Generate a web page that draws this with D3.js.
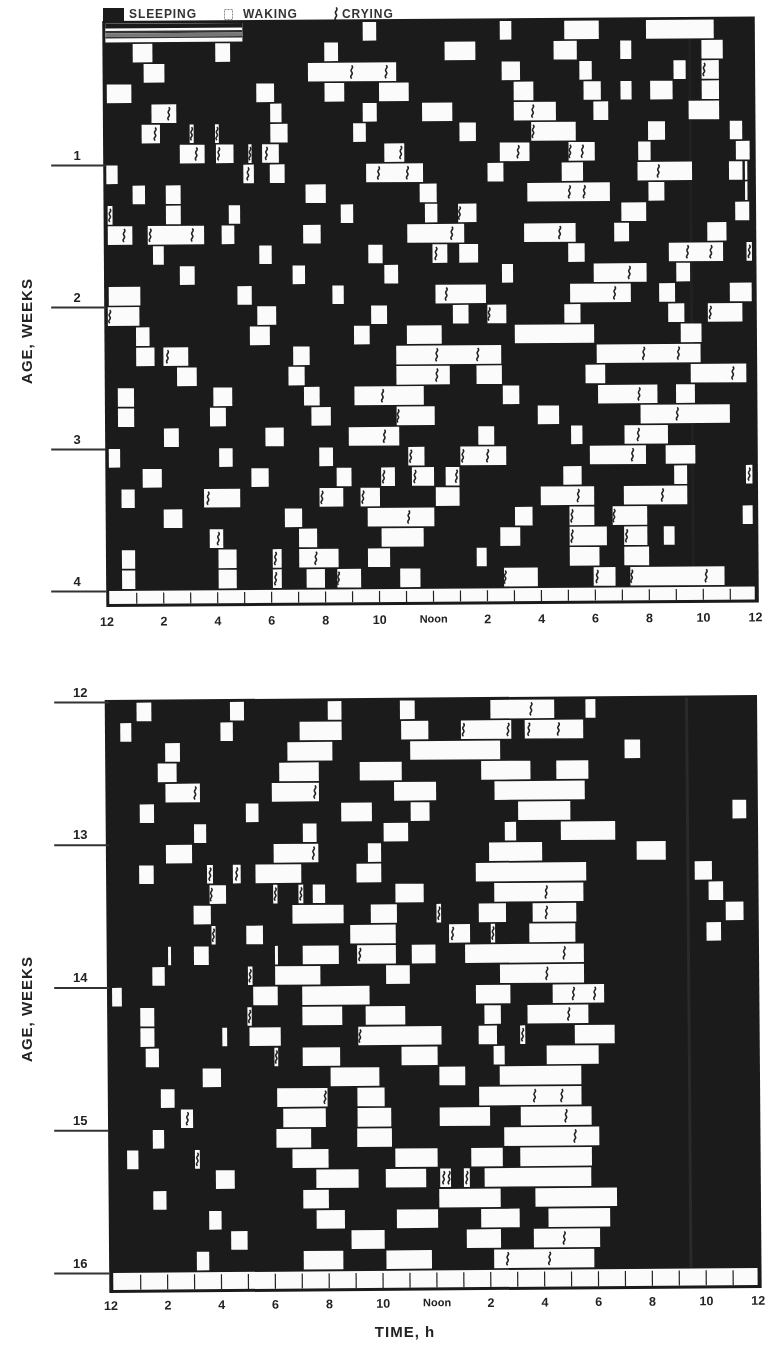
<!DOCTYPE html>
<html lang="en">
<head>
<meta charset="utf-8">
<title>Infant sleep actogram</title>
<style type="text/css">
html, body { margin: 0; background: #fff; }
svg { display: block; filter: blur(0.55px); }
text { font-family: "Liberation Sans", sans-serif; font-weight: bold; fill: #222; }
.hours text { font-size: 12.5px; }
.weeks text { font-size: 13px; }
.weeks line { stroke: #333; stroke-width: 2px; }
.ruler line { stroke: #222; stroke-width: 1.2px; }
.axis-title { font-size: 15px; letter-spacing: 1px; }
.legend text { font-size: 12px; letter-spacing: 0.9px; fill: #333; }
.cry { fill: none; stroke: #222; stroke-width: 1.6px; }
</style>
</head>
<body>
<svg width="776" height="1350"></svg>
<script src="https://d3js.org/d3.v7.min.js"></script>
<script>
var hourLabels = ["12", "2", "4", "6", "8", "10", "Noon", "2", "4", "6", "8", "10", "12"];
var legendItems = ["SLEEPING", "WAKING", "CRYING"];
var topWeeks = [1, 2, 3, 4];
var bottomWeeks = [12, 13, 14, 15, 16];

// waking bouts per day, in hours after midnight: [from, to]
var topWaking = [
  [[0,5.08],[9.54,10.04],[14.62,15.05],[17.01,18.29],[20.04,22.55]],
  [[1.01,1.74],[4.07,4.62],[8.11,8.62],[12.57,13.71],[16.61,17.47],[19.08,19.49],[22.09,22.88]],
  [[1.41,2.18],[7.5,10.77],[14.68,15.36],[17.56,18.02],[21.05,21.5],[22.09,22.73]],
  [[0.04,0.95],[5.58,6.24],[8.11,8.84],[10.13,11.23],[15.12,15.85],[17.71,18.35],[19.08,19.49],[20.18,21.01],[22.09,22.73]],
  [[1.69,2.61],[6.09,6.51],[9.52,10.04],[11.72,12.84],[15.12,16.68],[18.07,18.62],[21.6,22.73]],
  [[1.32,2],[3.1,3.25],[4.04,4.18],[6.09,6.73],[9.16,9.63],[13.1,13.71],[15.76,17.41],[20.09,20.72],[23.12,23.58]],
  [[2.73,3.65],[4.07,4.72],[5.27,5.39],[5.78,6.4],[10.31,11.05],[14.59,15.69],[17.14,18.11],[19.72,20.18],[23.34,23.85]],
  [[0,0.42],[5.08,5.47],[6.06,6.61],[9.63,11.74],[14.13,14.72],[16.88,17.67],[19.69,21.71],[23.08,23.58],[23.67,23.76]],
  [[0.97,1.43],[2.2,2.75],[7.38,8.13],[11.61,12.24],[15.6,18.66],[20.09,20.68],[23.67,23.76]],
  [[0.04,0.22],[2.2,2.75],[4.53,4.95],[8.68,9.14],[11.8,12.26],[13.03,13.71],[19.08,20],[23.3,23.82]],
  [[0.04,0.95],[1.52,3.61],[4.26,4.73],[7.28,7.93],[11.14,13.25],[15.47,17.38],[18.81,19.36],[22.26,22.97]],
  [[1.71,2.11],[5.65,6.11],[9.69,10.22],[12.07,12.62],[13.06,13.76],[17.1,17.71],[20.83,22.84],[23.71,23.91]],
  [[2.7,3.25],[6.88,7.34],[10.28,10.79],[14.64,15.05],[18.04,20],[21.1,21.61]],
  [[0.06,1.23],[4.83,5.36],[8.35,8.77],[12.17,14.04],[17.16,19.41],[20.46,21.05],[23.08,23.89]],
  [[0.02,1.19],[5.56,6.26],[9.78,10.37],[12.81,13.39],[14.09,14.79],[16.94,17.54],[20.79,21.39],[22.26,23.54]],
  [[1.06,1.56],[5.28,6.02],[9.14,9.72],[11.1,12.39],[15.1,18.04],[21.25,22.02]],
  [[1.06,1.74],[2.07,2.99],[6.88,7.49],[10.7,14.59],[18.13,21.98]],
  [[2.57,3.3],[6.7,7.3],[10.7,12.68],[13.67,14.61],[17.71,18.44],[21.61,23.67]],
  [[0.37,0.97],[3.91,4.61],[7.27,7.85],[9.14,11.71],[14.64,15.25],[18.17,20.37],[21.06,21.76]],
  [[0.37,0.97],[3.78,4.37],[7.54,8.26],[10.7,12.11],[15.93,16.72],[19.74,23.05]],
  [[2.07,2.62],[5.83,6.51],[8.92,10.79],[13.72,14.31],[17.16,17.58],[19.14,20.75]],
  [[0.02,0.44],[4.11,4.61],[7.82,8.33],[11.12,11.72],[13.05,14.75],[17.85,19.93],[20.66,21.76]],
  [[1.27,1.98],[5.3,5.94],[8.46,9.01],[10.11,10.62],[11.25,12.07],[12.5,13.01],[16.86,17.54],[20.97,21.45],[23.63,23.87]],
  [[0.48,0.97],[3.54,4.88],[7.82,8.7],[9.34,10.06],[12.13,13.01],[16.02,18],[19.1,21.45]],
  [[2.04,2.73],[6.53,7.17],[9.6,12.07],[15.06,15.71],[17.08,18],[18.68,19.96],[23.5,23.87]],
  [[3.74,4.24],[7.05,7.72],[10.11,11.67],[14.51,15.25],[17.08,18.46],[19.1,19.96],[20.57,20.97]],
  [[0.48,0.97],[4.06,4.73],[6.07,6.4],[7.05,8.51],[9.6,10.42],[13.63,14],[17.08,18.18],[19.1,20.02]],
  [[0.48,0.97],[4.06,4.73],[6.07,6.4],[7.32,8],[8.46,9.34],[10.79,11.54],[14.64,15.89],[17.96,18.77],[19.32,22.81]]
];

// crying episodes per day, hours after midnight
var topCrying = [
  [], [], [9.12,10.4,22.18], [], [2.33,15.82], [1.82,3.17,4.11,15.83], [3.34,4.17,5.33,5.94,10.92,15.27,17.19,17.65],
  [5.25,10.09,11.16,20.46], [17.16,17.71], [0.12,13.08], [0.64,1.61,3.17,12.79,16.79], [12.2,21.52,22.39,23.81], [19.36], [12.57,18.81],
  [0.09,14.15,22.35], [], [2.22,12.2,13.72,19.87,21.16], [12.2,23.17], [10.18,19.69], [10.75,21.1], [10.24,19.65],
  [11.21,13.14,14.06,19.43], [10.2,11.36,12.9,23.75], [3.69,7.91,9.43,17.41,20.53], [11.12,17.17,18.73], [4.06,17.17,19.19], [6.17,7.67], [6.17,8.5,14.68,18.09,19.37,22.13]
];

var bottomWaking = [
  [[1.03,1.58],[4.5,5.02],[8.13,8.64],[10.81,11.36],[14.17,16.54],[17.7,18.07]],
  [[0.42,0.83],[4.14,4.6],[7.08,8.64],[10.85,11.86],[13.07,14.94],[15.44,17.61]],
  [[2.08,2.63],[6.62,8.29],[11.18,14.52],[19.14,19.72]],
  [[1.8,2.5],[6.31,7.78],[9.3,10.86],[13.81,15.64],[16.6,17.79]],
  [[2.08,3.36],[6.03,7.78],[10.57,12.13],[14.3,17.65]],
  [[1.12,1.65],[5.06,5.53],[8.6,9.74],[11.18,11.88],[15.17,17.11],[23.13,23.64]],
  [[3.13,3.58],[7.17,7.68],[10.17,11.08],[14.67,15.09],[16.75,18.77]],
  [[2.08,3.05],[6.08,7.74],[9.58,10.07],[14.08,16.05],[19.56,20.64]],
  [[1.08,1.62],[3.6,3.82],[4.56,4.85],[5.4,7.1],[9.15,10.07],[13.58,17.68],[21.71,22.35]],
  [[3.69,4.3],[6.05,6.21],[6.99,7.17],[7.52,7.98],[10.59,11.64],[14.26,17.57],[22.22,22.76]],
  [[3.09,3.73],[6.76,8.66],[9.67,10.64],[12.11,12.28],[13.68,14.69],[15.68,17.3],[22.85,23.51]],
  [[3.75,3.9],[5.04,5.66],[8.9,10.59],[12.57,13.35],[14.12,14.28],[15.55,17.26],[22.13,22.67]],
  [[2.13,2.24],[3.09,3.64],[6.1,6.21],[7.13,8.47],[9.15,10.59],[11.18,12.06],[13.16,17.57]],
  [[1.54,2],[5.09,5.26],[6.1,7.78],[10.22,11.1],[14.45,17.57]],
  [[0.04,0.4],[5.28,6.19],[7.1,9.6],[13.55,14.83],[16.4,18.31]],
  [[1.08,1.6],[5.06,5.22],[7.1,8.58],[9.45,10.92],[13.86,14.47],[15.46,17.72]],
  [[1.08,1.6],[4.12,4.3],[5.13,6.29],[9.17,12.26],[13.64,14.32],[15.18,15.37],[17.21,18.69]],
  [[1.27,1.76],[6.05,6.19],[7.1,8.49],[10.77,12.11],[14.19,14.6],[16.16,18.09]],
  [[3.38,4.06],[8.13,9.94],[12.17,13.13],[14.41,17.44]],
  [[1.82,2.33],[6.14,8.01],[9.12,10.13],[13.64,17.44]],
  [[2.56,3.01],[6.36,7.94],[9.12,10.37],[12.17,14.04],[15.18,17.81]],
  [[1.51,1.93],[6.1,7.39],[9.1,10.39],[14.56,18.09]],
  [[0.55,0.97],[3.07,3.25],[6.69,8.03],[10.51,12.08],[13.33,14.5],[15.15,17.81]],
  [[3.84,4.54],[7.57,9.14],[10.15,11.65],[12.17,12.57],[13.05,13.27],[13.82,17.78]],
  [[1.51,2],[7.08,8.03],[12.13,14.41],[15.7,18.73]],
  [[3.58,4.04],[7.57,8.62],[10.55,12.08],[13.68,15.11],[16.18,18.47]],
  [[4.39,5],[8.86,10.09],[13.14,14.41],[15.63,18.09]],
  [[3.11,3.57],[7.08,8.55],[10.15,11.84],[14.15,17.87]]
];

var bottomCrying = [
  [15.68], [13.16,14.82,15.59,16.69], [], [], [3.18,7.63], [], [],
  [7.56], [3.71,4.7], [3.75,6.13,7.08,16.19], [12.2,16.19], [3.82,12.7,14.2], [9.25,16.84], [5.17,16.19],
  [17.17,17.96], [5.14,16.99], [9.23,15.27], [6.12], [], [7.92,15.7,16.71], [2.8,16.86],
  [17.19], [3.16], [12.3,12.5,13.16], [], [], [16.76], [14.65,16.21]
];

var svg = d3.select("svg");

var cryLine = d3.line().curve(d3.curveBasis);
var cryShape = [[0,-6.5],[1.8,-4.5],[-1.8,-1.5],[1.8,1.5],[-1.8,4.5],[0,6.5]];

function drawPanel(opt) {
  var x = d3.scaleLinear().domain([0, 24]).range([opt.x0, opt.x0 + 24 * opt.hour]);
  var y = d3.scaleLinear().domain([0, 28]).range([opt.top, opt.bottom]);
  var barH = 18.6;
  var pad = (y(1) - y(0) - barH) / 2;

  var g = svg.append("g")
      .attr("transform", "rotate(" + opt.tilt + " " + opt.x0 + " " + opt.bottom + ")");

  g.append("rect")
      .attr("x", opt.x0 - opt.edge)
      .attr("y", opt.top - 2)
      .attr("width", 24 * opt.hour + opt.edge + 2)
      .attr("height", opt.bottom - opt.top + opt.strip + 6)
      .attr("fill", "#1b1b1b");

  // faint seam in the original print
  g.append("rect")
      .attr("x", x(opt.seam))
      .attr("y", opt.top)
      .attr("width", 3)
      .attr("height", opt.bottom - opt.top)
      .attr("fill", opt.seamColor);

  var day = g.selectAll(".day")
      .data(opt.waking)
    .enter().append("g")
      .attr("class", "day")
      .attr("transform", function(d, i) { return "translate(0," + (y(i) + pad) + ")"; });

  day.selectAll("rect")
      .data(function(d) { return d; })
    .enter().append("rect")
      .attr("x", function(d) { return x(d[0]); })
      .attr("width", function(d) { return x(d[1]) - x(d[0]); })
      .attr("height", barH)
      .attr("fill", "#fbfbfb");

  g.selectAll(".crying")
      .data(opt.crying)
    .enter().append("g")
      .attr("class", "crying")
      .attr("transform", function(d, i) { return "translate(0," + (y(i) + pad + barH / 2) + ")"; })
    .selectAll("path")
      .data(function(d) { return d; })
    .enter().append("path")
      .attr("class", "cry")
      .attr("d", cryLine(cryShape))
      .attr("transform", function(d) { return "translate(" + x(d) + ",0)"; });

  // 24 h ruler under the days
  var ruler = g.append("g").attr("class", "ruler");
  ruler.append("rect")
      .attr("x", x(0))
      .attr("y", opt.bottom + 1)
      .attr("width", x(24) - x(0) - 2)
      .attr("height", opt.strip)
      .attr("fill", "#fbfbfb");
  ruler.append("g")
      .attr("transform", "translate(0," + (opt.bottom + 1 + opt.strip) + ")")
      .call(d3.axisTop(x).tickValues(d3.range(1, 24)).tickSize(opt.strip - 2).tickFormat(""))
      .call(function(a) { a.select(".domain").remove(); a.attr("font-size", null); });

  // hour labels
  var hours = g.append("g")
      .attr("class", "hours")
      .attr("transform", "translate(0," + (opt.bottom + opt.strip + opt.labelGap) + ")")
      .call(d3.axisBottom(x).tickValues(d3.range(0, 25, 2)).tickSize(0).tickPadding(4)
        .tickFormat(function(d, i) { return hourLabels[i]; }));
  hours.attr("font-size", null).attr("font-family", null);
  hours.select(".domain").remove();
  hours.selectAll("text").filter(function(d) { return d === 12; })
      .style("font-size", "11px");
  hours.selectAll("text").filter(function(d) { return d === 0; })
      .attr("dx", -3);
  hours.selectAll("text").filter(function(d) { return d === 24; })
      .attr("dx", -2);

  // week ticks
  var w = d3.scaleLinear()
      .domain([opt.weeks[0] - (opt.weeks.length === 4 ? 1 : 0), opt.weeks[opt.weeks.length - 1]])
      .range([opt.weekTop, opt.weekBottom]);
  var weeks = svg.append("g")
      .attr("class", "weeks")
      .attr("transform", "translate(" + (opt.x0 - opt.edge) + ",0)")
      .call(d3.axisLeft(w).tickValues(opt.weeks).tickSize(55).tickFormat(d3.format("d")));
  weeks.attr("font-size", null).attr("font-family", null);
  weeks.select(".domain").remove();
  weeks.selectAll("text")
      .attr("x", -29)
      .attr("dy", 0)
      .attr("y", -6)
      .attr("text-anchor", "middle");

  svg.append("text")
      .attr("class", "axis-title")
      .attr("transform", "translate(32," + opt.titleY + ") rotate(-90)")
      .attr("text-anchor", "middle")
      .text("AGE, WEEKS");
}

drawPanel({
  waking: topWaking, crying: topCrying, weeks: topWeeks,
  x0: 109.2, hour: 26.98, top: 23, bottom: 590, strip: 13, edge: 3, tilt: -0.4,
  seam: 21.6, seamColor: "#212121", labelGap: 10,
  weekTop: 23, weekBottom: 591, titleY: 331
});

drawPanel({
  waking: bottomWaking, crying: bottomCrying, weeks: bottomWeeks,
  x0: 113.2, hour: 26.93, top: 702, bottom: 1272, strip: 17, edge: 4, tilt: -0.45,
  seam: 21.4, seamColor: "#2a2a2a", labelGap: 8,
  weekTop: 702, weekBottom: 1273, titleY: 1009
});

// striped bar on the first day of the top panel
var stripeX = d3.scaleLinear().domain([0, 24]).range([109.2, 756.7]);
var stripes = svg.append("g")
    .attr("transform", "rotate(-0.4 109.2 590)");
stripes.selectAll("rect")
    .data([[24, 4.5, "#1b1b1b"], [31, 2.5, "#333"], [33.5, 3.5, "#777"], [37, 1.5, "#333"]])
  .enter().append("rect")
    .attr("x", stripeX(0))
    .attr("y", function(d) { return d[0]; })
    .attr("width", stripeX(topWaking[0][0][1]) - stripeX(0))
    .attr("height", function(d) { return d[1]; })
    .attr("fill", function(d) { return d[2]; });

svg.append("text")
    .attr("class", "axis-title")
    .attr("x", 405).attr("y", 1337)
    .attr("text-anchor", "middle")
    .text("TIME, h");

// legend
var legend = svg.append("g").attr("class", "legend");
legend.append("rect")
    .attr("x", 103).attr("y", 8).attr("width", 21).attr("height", 13)
    .attr("fill", "#1b1b1b");
legend.append("rect")
    .attr("x", 224.5).attr("y", 9.5).attr("width", 8).attr("height", 10)
    .attr("fill", "#fff").attr("stroke", "#888").attr("stroke-dasharray", "2,1");
legend.append("path")
    .attr("class", "cry")
    .attr("d", cryLine(cryShape))
    .attr("transform", "translate(336,14)");
legend.selectAll("text")
    .data(legendItems)
  .enter().append("text")
    .attr("x", function(d, i) { return [129, 243, 342][i]; })
    .attr("y", 18)
    .text(function(d) { return d; });
</script>
</body>
</html>
